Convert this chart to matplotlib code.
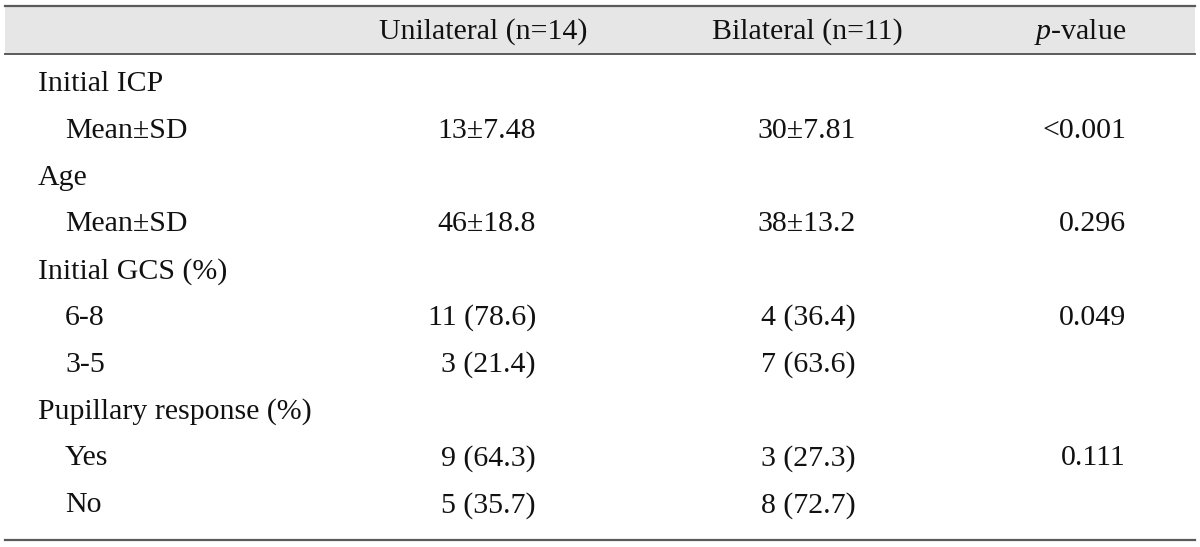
import matplotlib.pyplot as plt

# Contenu du tableau
headers = ["Unilateral (n=14)", "Bilateral (n=11)", "$\\it{p}$-value"]
row_labels = ["Initial ICP", "Mean±SD", "Age", "Mean±SD", "Initial GCS (%)",
              "6-8", "3-5", "Pupillary response (%)", "Yes", "No"]
is_group = [True, False, True, False, True, False, False, True, False, False]
unilateral = ["", "13±7.48", "", "46±18.8", "", "11 (78.6)", "3 (21.4)", "", "9 (64.3)", "5 (35.7)"]
bilateral = ["", "30±7.81", "", "38±13.2", "", "4 (36.4)", "7 (63.6)", "", "3 (27.3)", "8 (72.7)"]
p_values = ["", "<0.001", "", "0.296", "", "0.049", "", "", "0.111", ""]

plt.rcParams['font.family'] = ['Liberation Serif', 'DejaVu Serif']
plt.rcParams['mathtext.fontset'] = 'custom'
plt.rcParams['mathtext.it'] = 'Liberation Serif:italic'
plt.rcParams['mathtext.rm'] = 'Liberation Serif'

W, H = 1200, 547
fig = plt.figure(figsize=(W / 100, H / 100), dpi=100)
ax = fig.add_axes([0, 0, 1, 1])
ax.set_xlim(0, W)
ax.set_ylim(H, 0)
ax.axis('off')

fs = 21.5
line_col = '#5a5a5a'
txt_col = '#111111'

# bandeau d'en-tête
ax.fill_between([5, 1195], 6, 54, color='#e6e6e6', lw=0)
ax.plot([5, 1195], [6, 6], color=line_col, lw=1.6)
ax.plot([5, 1195], [54, 54], color=line_col, lw=1.4)

head_x = [483, 807, 1080]
for x, h in zip(head_x, headers):
    ax.text(x, 39, h, ha='center', va='baseline', fontsize=fs, color=txt_col)

# lignes du tableau (ligne de base commune)
y0, dy = 91, 46.8
col_right = [536, 856, 1126]
for i, lab in enumerate(row_labels):
    y = y0 + i * dy
    ax.text(38 if is_group[i] else 65, y, lab, ha='left', va='baseline', fontsize=fs, color=txt_col)
    for x, col in zip(col_right, [unilateral, bilateral, p_values]):
        if col[i]:
            ax.text(x, y, col[i], ha='right', va='baseline', fontsize=fs, color=txt_col)

ax.plot([5, 1195], [540, 540], color=line_col, lw=1.6)

fig.savefig('out.png', dpi=100)
